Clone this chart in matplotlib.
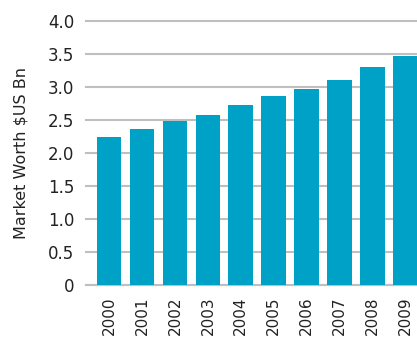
import matplotlib
matplotlib.use("Agg")
import matplotlib.pyplot as plt

plt.rcParams["font.family"] = ["DejaVu Sans"]

years = ["2000", "2001", "2002", "2003", "2004", "2005", "2006", "2007", "2008", "2009"]
values = [2.24, 2.36, 2.48, 2.57, 2.72, 2.87, 2.97, 3.10, 3.31, 3.47]
yticks = [0, 0.5, 1.0, 1.5, 2.0, 2.5, 3.0, 3.5, 4.0]
ytick_labels = ["0", "0.5", "1.0", "1.5", "2.0", "2.5", "3.0", "3.5", "4.0"]

fig = plt.figure(figsize=(4.17, 3.38), dpi=100)
ax = fig.add_axes([86/417, 53/338, 342.6/417, 264/338])
x = list(range(len(years)))
ax.bar(x, values, width=0.75, color="#00A1C6", zorder=3)
ax.set_xlim(-0.7, 9.7)
ax.set_ylim(0, 4.0)
ax.set_yticks(yticks)
ax.set_yticklabels(ytick_labels)
ax.set_xticks(x)
ax.set_xticklabels(years, rotation=90)
ax.yaxis.grid(True, color="#BFBFBF", linewidth=1.5, zorder=0)
for gl in ax.get_ygridlines():
    gl.set_clip_on(False)
ax.set_axisbelow(True)
for s in ["top", "right", "left"]:
    ax.spines[s].set_visible(False)
ax.spines["bottom"].set_color("#BFBFBF")
ax.spines["bottom"].set_linewidth(1.5)
ax.tick_params(axis="both", length=0, labelsize=12, colors="#222222")
ax.tick_params(axis="y", pad=8.5)
ax.tick_params(axis="x", pad=8, labelsize=11)
ax.set_ylabel("Market Worth $US Bn", fontsize=11.5, color="#222222", labelpad=14)
fig.savefig("out.png", dpi=100)
